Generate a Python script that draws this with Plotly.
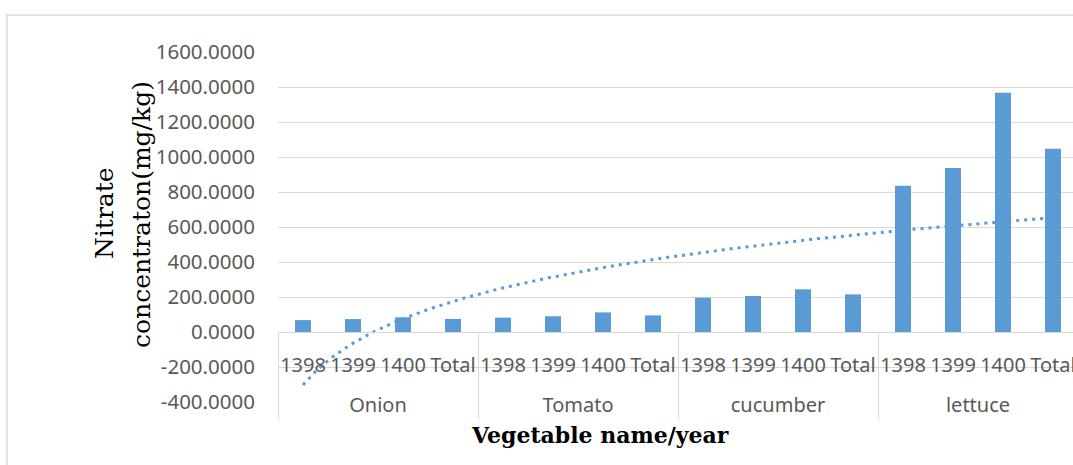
import numpy as np
import plotly.graph_objects as go

# ---- data ----
groups = ["Onion", "Tomato", "cucumber", "lettuce"]
years = ["1398", "1399", "1400", "Total"]
onion = [68, 74, 84, 75]
tomato = [82, 90, 112, 95]
cucumber = [196, 206, 244, 215]
lettuce = [836, 937, 1367, 1047]
y_tick_vals = [-400, -200, 0, 200, 400, 600, 800, 1000, 1200, 1400, 1600]
y_tick_text = ["%.4f" % v for v in y_tick_vals]

values = onion + tomato + cucumber + lettuce
# group labels get a leading line break so they sit lower, like the reference
x_groups = ["<br>" + g for g in groups for _ in years]
x_years = [y for _ in groups for y in years]

# logarithmic trendline fitted on the series (Excel style)
idx = np.arange(1, len(values) + 1)
a, b = np.polyfit(np.log(idx), np.array(values, dtype=float), 1)
xt = np.linspace(1, len(values), 200)
yt = a * np.log(xt) + b

BLUE = "#5b9bd5"
GRID = "#d9d9d9"
TXT = "#595959"

W, H = 1073, 465
L, R, T, B = 278, 0, 52, 63
pw = W - L - R
ph = H - T - B

def px(xp):
    return (xp - L) / pw

def py(yp):
    return (H - B - yp) / ph

fig = go.Figure()
fig.add_trace(go.Bar(x=[x_groups, x_years], y=values, marker_color=BLUE,
                     marker_line_width=0, width=0.32, showlegend=False))
fig.add_trace(go.Scatter(x=xt, y=yt, xaxis="x2", mode="lines",
                         line=dict(color=BLUE, width=3, dash="3px,5px"),
                         showlegend=False, hoverinfo="skip"))

fig.update_layout(
    width=W, height=H,
    margin=dict(l=L, r=R, t=T, b=B, pad=0),
    paper_bgcolor="white", plot_bgcolor="white",
    xaxis=dict(type="multicategory", anchor="free", position=0.2,
               range=[-0.5, 15.4], showgrid=False, zeroline=False,
               showline=True, linecolor=GRID, linewidth=1,
               showdividers=True, dividercolor=GRID, dividerwidth=1,
               tickangle=0, ticklabelstandoff=15,
               tickfont=dict(family="Noto Sans", size=20, color=TXT),
               ticks="", automargin=False),
    xaxis2=dict(overlaying="x", range=[0.5, 16.4], visible=False,
                anchor="y"),
    yaxis=dict(range=[-400, 1600], tickvals=y_tick_vals, ticktext=y_tick_text,
               showgrid=True, gridcolor=GRID, gridwidth=1.3, zeroline=False,
               showline=False, ticks="", ticklabelstandoff=22,
               tickfont=dict(family="Noto Sans", size=20.5, color=TXT),
               automargin=False),
    shapes=[dict(type="rect", xref="paper", yref="paper",
                 x0=px(7), x1=px(1200), y0=py(600), y1=py(15),
                 line=dict(color=GRID, width=1.5), fillcolor="rgba(0,0,0,0)",
                 layer="below")],
    annotations=[
        dict(text="Nitrate", xref="paper", yref="paper", x=px(104), y=py(213),
             xanchor="center", yanchor="middle", textangle=-90, showarrow=False,
             font=dict(family="DejaVu Serif", size=25, color="black")),
        dict(text="concentraton(mg/kg)", xref="paper", yref="paper", x=px(141),
             y=py(215), xanchor="center", yanchor="middle", textangle=-90,
             showarrow=False,
             font=dict(family="DejaVu Serif", size=25, color="black")),
        dict(text="<b>Vegetable name/year</b>", xref="paper", yref="paper",
             x=px(600), y=py(435), xanchor="center", yanchor="middle",
             showarrow=False,
             font=dict(family="DejaVu Serif", size=22, color="black")),
    ],
)

fig.write_html("out.html", config={"displayModeBar": False},
               post_script="document.body.style.margin='0';document.body.style.overflow='hidden';")
